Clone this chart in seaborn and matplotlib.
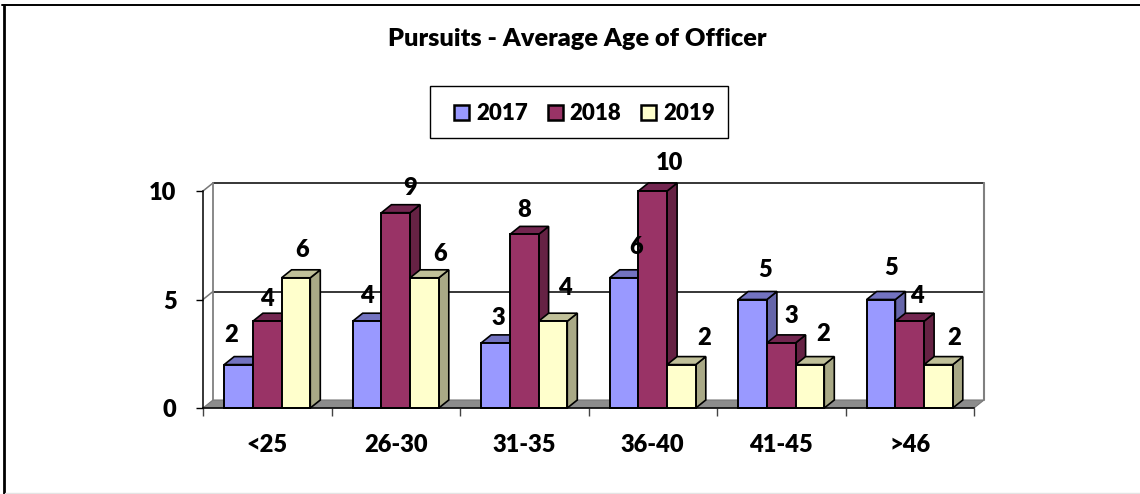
import matplotlib
matplotlib.use("Agg")
import matplotlib.pyplot as plt
from matplotlib.patches import Polygon, Rectangle
from matplotlib.lines import Line2D
from matplotlib.font_manager import FontProperties
import numpy as np
import pandas as pd
import seaborn as sns

categories = ["<25", "26-30", "31-35", "36-40", "41-45", ">46"]
years = ["2017", "2018", "2019"]
values_2017 = [2, 4, 3, 6, 5, 5]
values_2018 = [4, 9, 8, 10, 3, 4]
values_2019 = [6, 6, 4, 2, 2, 2]

W, H = 1140, 494
sns.set_theme(style="white")
plt.rcParams["font.family"] = ["Lato", "DejaVu Sans"]
plt.rcParams["font.weight"] = "heavy"
WEIGHT = "heavy"

front = ["#9999FF", "#993366", "#FFFFCC"]
top = ["#7373C0", "#732650", "#C0C099"]
side = ["#6666AA", "#662244", "#A9A986"]

# label offsets in pixels from the top centre of each bar's front face
off_x = [[-7.5, 0, 2.5, 12, 12.5, 10], [0, 14, 0, 17, 10, 7], [6, 15.5, 12, 22.5, 13, 15.5]]
off_y = [[29.5, 25.5, 24.5, 30.5, 29.5, 31.5], [22.5, 24.5, 24.5, 28.5, 26.5, 25.5], [27.5, 23.5, 33.5, 26.5, 30.5, 26.5]]

df = pd.DataFrame({
    "category": categories * 3,
    "year": np.repeat(years, 6),
    "value": values_2017 + values_2018 + values_2019,
})

fig = plt.figure(figsize=(W / 100, H / 100), dpi=100)
fig.patch.set_facecolor("white")
ax_l, ax_r, ax_t, ax_b = 203, 974, 191, 408
ax = fig.add_axes([ax_l / W, 1 - ax_b / H, (ax_r - ax_l) / W, (ax_b - ax_t) / H])
sns.barplot(data=df, x="category", y="value", hue="year", palette=front, width=0.67, gap=0,
            edgecolor="black", linewidth=1.4, saturation=1, legend=False, ax=ax, zorder=5)
ax.set_xlim(-0.5, 5.5)
ax.set_ylim(0, 10)
ax.set_xlabel("")
ax.set_ylabel("")
ax.patch.set_alpha(0)

bars = sorted([b for b in ax.patches if isinstance(b, Rectangle)], key=lambda p: p.get_x())

dx = 10 / ((ax_r - ax_l) / 6)
dy = 8 / ((ax_b - ax_t) / 10)
kw = dict(clip_on=False)

# floor and back walls
ax.add_patch(Polygon([(-0.5, 0), (5.5, 0), (5.5 + dx, dy), (-0.5 + dx, dy)], fc="#8C8C8C", ec="#777777", lw=0.8, zorder=1, **kw))
for v in (5, 10):
    ax.plot([-0.5 + dx, 5.5 + dx], [v + dy, v + dy], color="black", lw=1.1, zorder=1, **kw)
    ax.plot([-0.5, -0.5 + dx], [v, v + dy], color="#777777", lw=1.1, zorder=1, **kw)
ax.plot([-0.5 + dx, -0.5 + dx], [dy, 10 + dy], color="#808080", lw=1.3, zorder=1, **kw)
ax.plot([5.5 + dx, 5.5 + dx], [dy, 10 + dy], color="#808080", lw=1.5, zorder=1, **kw)

# 3D faces of the bars, built from the bars seaborn drew
s = [values_2017, values_2018, values_2019]
for n, b in enumerate(bars):
    x0, w, h = b.get_x(), b.get_width(), b.get_height()
    i = int(round(x0 + w / 2))
    order = int(round((x0 + w / 2 - i) / w)) + 1
    z = 3 + n * 0.01
    ax.add_patch(Polygon([(x0 + w, 0), (x0 + w + dx, dy), (x0 + w + dx, h + dy), (x0 + w, h)],
                         fc=side[order], ec="black", lw=1.2, zorder=z, **kw))
    ax.add_patch(Polygon([(x0, h), (x0 + dx, h + dy), (x0 + w + dx, h + dy), (x0 + w, h)],
                         fc=top[order], ec="black", lw=1.2, zorder=z, **kw))
    b.set_zorder(z + 0.001)
    b.set_clip_on(False)
    ax.annotate(str(s[order][i]), (x0 + w / 2, h), xycoords="data",
                xytext=(off_x[order][i] * 0.72, off_y[order][i] * 0.72), textcoords="offset points",
                ha="center", va="center", fontsize=17, fontweight=WEIGHT, color="black", zorder=20,
                annotation_clip=False)

# axes
sns.despine(ax=ax)
for sp in ("left", "bottom"):
    ax.spines[sp].set_color("black")
    ax.spines[sp].set_linewidth(1.1)
    ax.spines[sp].set_zorder(4)
ax.set_yticks([0, 5, 10])
ax.set_xticks(np.arange(-0.5, 6), minor=True)
ax.tick_params(axis="y", which="major", left=True, length=5, width=1, color="black", pad=14, labelsize=17)
ax.tick_params(axis="x", which="major", bottom=False, length=0, pad=19, labelsize=17)
ax.tick_params(axis="x", which="minor", bottom=True, length=5.8, width=1, color="#444444")
for t in ax.get_xticklabels() + ax.get_yticklabels():
    t.set_fontweight(WEIGHT)
    t.set_color("black")

fig.text(577 / W, 1 - 38.5 / H, "Pursuits - Average Age of Officer", ha="center", va="center",
         fontsize=18.2, fontweight=WEIGHT, color="black")

# legend
fig.add_artist(Rectangle((430 / W, 1 - 138 / H), 298 / W, 52 / H, transform=fig.transFigure,
                         fc="white", ec="black", lw=1.0, zorder=2))
handles = [Rectangle((0, 0), 1, 1, fc=c, ec="black", lw=1.8) for c in front]
leg = fig.legend(handles, years, loc="center", bbox_to_anchor=(584.5 / W, 1 - 113.5 / H), ncol=3,
                 frameon=False, prop=FontProperties(family="Lato", size=16, weight=WEIGHT),
                 handlelength=0.68, handleheight=0.68, handletextpad=0.3, columnspacing=0.9,
                 borderpad=0, labelcolor="black")
leg.set_zorder(3)

# chart frame
fig.add_artist(Line2D(np.array([3.5, 3.5]) / W, 1 - np.array([5, 494]) / H, color="black", lw=2))
fig.add_artist(Line2D(np.array([2, 1140]) / W, 1 - np.array([5.5, 5.5]) / H, color="black", lw=1.4))
fig.add_artist(Line2D(np.array([5, 1140]) / W, 1 - np.array([493, 493]) / H, color="#E4E4E4", lw=1))

fig.savefig("out.png", dpi=100)
